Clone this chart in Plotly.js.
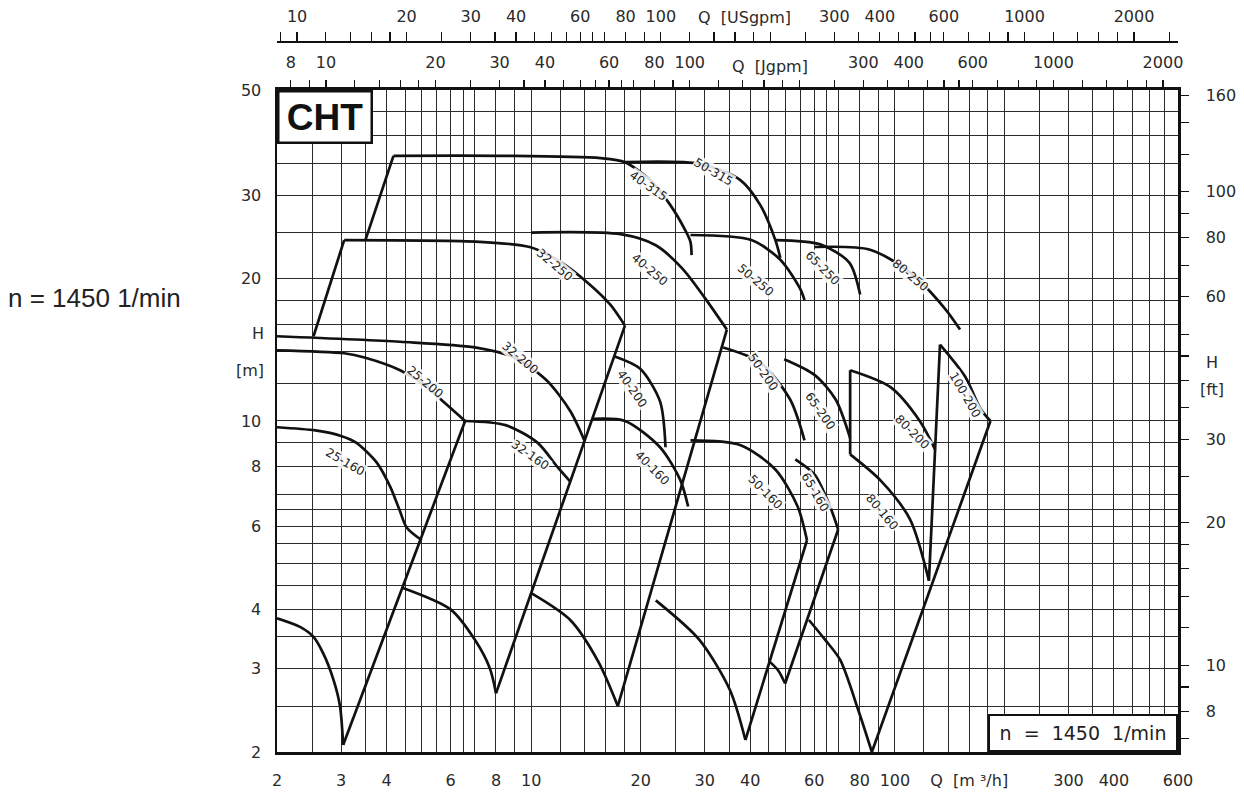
<!DOCTYPE html>
<html><head><meta charset="utf-8">
<script src="https://cdn.plot.ly/plotly-3.0.1.min.js"></script>
<style>html,body{margin:0;padding:0;background:#fff}#chart{width:1244px;height:793px}</style>
</head><body><div id="chart"></div>
<script>
// ---- axis / tick data ----
const qGrid = [2,2.5,3,3.5,4,4.5,5,5.5,6,6.5,7,8,9,10,12,14,16,18,20,25,30,35,40,45,50,55,60,65,70,80,90,100,120,140,160,180,200,250,300,350,400,450,500,550,600];
const qLabelVals = [2,3,4,6,8,10,20,30,40,60,80,100,300,400,600];
const hGrid = [2,2.5,3,3.5,4,4.5,5,5.5,6,6.5,7,8,9,10,12,14,16,18,20,25,30,35,40,45,50];
const hLabelVals = [2,3,4,6,8,10,20,30,50];
const ftTicks = [7,8,9,10,12,14,16,18,20,25,30,35,40,45,50,60,70,80,90,100,120,140,160];
const ftLabelVals = [8,10,20,30,60,80,100,160];
const usTicks = [9,10,12,14,16,18,20,25,30,35,40,45,50,55,60,65,70,80,90,100,120,140,160,180,200,250,300,350,400,450,500,550,600,700,800,900,1000,1200,1400,1600,1800,2000,2500];
const usLabelVals = [10,20,30,40,60,80,100,300,400,600,1000,2000];
const jTicks = [8,9,10,12,14,16,18,20,25,30,35,40,45,50,55,60,65,70,80,90,100,120,140,160,180,200,250,300,350,400,450,500,550,600,700,800,900,1000,1200,1400,1600,1800,2000];
const jLabelVals = [8,10,20,30,40,60,80,100,300,400,600,1000,2000];
const US_PER_M3H = 4.4029, J_PER_M3H = 3.6662, FT_PER_M = 3.2808;
const qMin = 2, qMax = 600, hMin = 2, hMax = 50;

// ---- curve data (Q in m3/h, H in m) ----
const q25_160 = [2, 2.55, 3.0, 3.3, 3.77, 4.1, 4.34, 4.55, 5.0]; const h25_160 = [9.7, 9.55, 9.3, 9.0, 8.15, 7.25, 6.5, 5.95, 5.6];
const q25_160b = [2, 2.32, 2.52, 2.68, 2.86, 2.98, 3.04]; const h25_160b = [3.83, 3.67, 3.5, 3.23, 2.84, 2.5, 2.07];
const q25_200 = [2, 3.06, 3.5, 4.36, 5.1, 5.8, 6.58];    const h25_200 = [14.1, 13.9, 13.6, 12.8, 11.9, 10.9, 10.0];
const q32_200 = [2, 4.36, 7, 9, 11, 12.8, 14.0];         const h32_200 = [15.1, 14.7, 14.3, 13.6, 12.2, 10.5, 9.1];
const q32_250 = [3.06, 7.2, 9.9, 12.0, 14.5, 16.5, 18.1]; const h32_250 = [24.1, 23.9, 23.3, 21.7, 19.4, 17.6, 15.9];
const q40_315 = [4.18, 8.2, 15.5, 18.1, 21.2, 24.1, 26.5, 27.4, 27.6]; const h40_315 = [36.3, 36.3, 35.9, 35.2, 32.3, 28.6, 25.3, 23.9, 22.4];
const q50_315 = [18.1, 29.1, 37.5, 42.6, 46.9, 48.4];    const h50_315 = [35.2, 34.9, 32.3, 28.6, 24.1, 22.1];
const q32_160 = [6.58, 8.5, 10.4, 11.8, 12.8];           const h32_160 = [10.0, 9.8, 9.0, 8.0, 7.45];
const q32_160b = [4.4, 6.0, 7.0, 7.7, 8.0];              const h32_160b = [4.45, 4.0, 3.45, 3.0, 2.66];
const q40_250 = [10.0, 17.6, 22, 26, 30, 34.5];          const h40_250 = [25.0, 24.8, 23.5, 21, 18.2, 15.6];
const q40_200 = [16.9, 19.9, 22.6, 23.4];                const h40_200 = [13.7, 12.9, 11.0, 8.8];
const q40_160 = [14.7, 18.1, 22.6, 25.7, 27.0];          const h40_160 = [10.1, 10.0, 8.8, 7.5, 6.6];
const q40_160b = [10, 12.8, 15.3, 17.3];                 const h40_160b = [4.33, 3.8, 3.1, 2.5];
const q50_250 = [27.4, 40.3, 48.4, 54.9, 56.4];          const h50_250 = [24.7, 24.1, 21.9, 19.0, 18.0];
const q50_200 = [33.7, 42.6, 51.5, 56.4];                const h50_200 = [14.3, 13.3, 11.1, 9.1];
const q50_160 = [27.4, 37.5, 46.9, 54.0, 57.3];          const h50_160 = [9.1, 8.9, 7.9, 6.6, 5.6];
const q50_160b = [22, 29, 35.2, 38.8];                   const h50_160b = [4.18, 3.45, 2.7, 2.12];
const q65_250 = [46.9, 62.3, 74.9, 80.2];                const h65_250 = [24.1, 23.6, 21.6, 18.5];
const q65_200 = [49.6, 60.2, 68.7, 75.3];                const h65_200 = [13.5, 12.5, 11.1, 9.2];
const q65_160 = [53.2, 60.2, 66.3, 69.8];                const h65_160 = [8.3, 7.7, 6.6, 5.9];
const q65_160b = [45.3, 47.8, 49.9];                     const h65_160b = [3.1, 2.97, 2.79];
const q80_250 = [60.2, 85.4, 110, 137, 151];             const h80_250 = [23.3, 23.0, 20.6, 17.3, 15.6];
const q80_200 = [75.3, 97, 117, 129];                    const h80_200 = [12.8, 11.8, 10.0, 8.7];
const q80_160 = [75.3, 91.1, 110, 124];                  const h80_160 = [8.5, 7.5, 6.2, 4.6];
const q80_160b = [58, 64.3, 70.7, 79.3, 86.4];           const h80_160b = [3.8, 3.45, 3.13, 2.45, 2.0];
const q100_200 = [133, 156, 172, 183];                   const h100_200 = [14.5, 12.4, 10.6, 10.0];
// straight boundary lines
const qB1 = [2.52, 3.06]; const hB1 = [15.1, 24.1];
const qB2 = [3.5, 4.18];  const hB2 = [24.1, 36.3];
const qB3 = [3.04, 6.58]; const hB3 = [2.07, 10.0];
const qB4 = [8.0, 18.1];  const hB4 = [2.66, 15.9];
const qB5 = [17.3, 34.5]; const hB5 = [2.5, 15.6];
const qB6 = [38.8, 57.3]; const hB6 = [2.12, 5.6];
const qB65 = [49.9, 69.8]; const hB65 = [2.79, 5.9];
const qB7 = [86.4, 183];  const hB7 = [2.0, 10.0];
const qB8 = [124, 129, 133];   const hB8 = [4.6, 8.7, 14.5];
const qB9 = [75.3, 75.3]; const hB9 = [8.5, 12.8];

// curve labels
const labelNames = ['40-315','50-315','32-250','40-250','50-250','65-250','80-250','25-200','32-200','40-200','50-200','65-200','80-200','100-200','25-160','32-160','40-160','50-160','65-160','80-160'];
const labelQ = [21.0, 31.7, 11.6, 21.2, 41.3, 63.1, 110, 5.11, 9.33, 18.95, 43.4, 62.3, 111.5, 156, 3.08, 9.94, 21.5, 44.0, 60.3, 92.2];
const labelH = [31.3, 33.5, 21.3, 20.8, 19.8, 21.0, 20.3, 12.1, 13.6, 11.7, 12.7, 10.5, 9.48, 11.35, 8.19, 8.48, 7.96, 7.08, 7.08, 6.43];
const labelAngle = [35, 30, 40, 40, 40, 45, 40, 40, 40, 55, 55, 55, 45, 60, 30, 35, 45, 45, 60, 50];

const smooth = [[q25_160,h25_160],[q25_160b,h25_160b],[q25_200,h25_200],[q32_200,h32_200],[q32_250,h32_250],[q40_315,h40_315],[q50_315,h50_315],[q32_160,h32_160],[q32_160b,h32_160b],[q40_250,h40_250],[q40_200,h40_200],[q40_160,h40_160],[q40_160b,h40_160b],[q50_250,h50_250],[q50_200,h50_200],[q50_160,h50_160],[q50_160b,h50_160b],[q65_250,h65_250],[q65_200,h65_200],[q65_160,h65_160],[q65_160b,h65_160b],[q80_250,h80_250],[q80_200,h80_200],[q80_160,h80_160],[q80_160b,h80_160b],[q100_200,h100_200]];
const straight = [[qB1,hB1],[qB2,hB2],[qB3,hB3],[qB4,hB4],[qB5,hB5],[qB6,hB6],[qB65,hB65],[qB7,hB7],[qB8,hB8],[qB9,hB9]];

const ink = '#111';
const traces = [];
smooth.forEach(([q,h]) => traces.push({x:q, y:h, mode:'lines', line:{color:ink, width:2.7, shape:'spline', smoothing:0.8}, hoverinfo:'skip'}));
straight.forEach(([q,h]) => traces.push({x:q, y:h, mode:'lines', line:{color:ink, width:2.7}, hoverinfo:'skip'}));
traces.push({x:[], y:[], xaxis:'x2', yaxis:'y', mode:'lines', hoverinfo:'skip'});
traces.push({x:[], y:[], xaxis:'x3', yaxis:'y', mode:'lines', hoverinfo:'skip'});
traces.push({x:[], y:[], xaxis:'x', yaxis:'y2', mode:'lines', hoverinfo:'skip'});

const L = Math.log10;
const txt = (vals, labs) => vals.map(v => labs.includes(v) ? String(v) : '');
const tickFont = {family:'DejaVu Sans, Liberation Sans, sans-serif', size:16, color:'#2a2a2a'};
const gridColor = '#2b2b2b';

const qText = txt(qGrid, qLabelVals);
qText[qGrid.indexOf(160)] = 'Q  [m ³/h]';

const yTop = 0.9044;
const annotations = labelNames.map((n,i) => ({
  text:n, x:L(labelQ[i]), y:L(labelH[i]), xref:'x', yref:'y', showarrow:false,
  textangle:labelAngle[i], font:{family:'DejaVu Sans, sans-serif', size:12, color:'#222'},
  bgcolor:'rgba(255,255,255,0.85)', borderpad:0
}));
annotations.push(
  {text:'<b>CHT</b>', xref:'x domain', yref:'y domain', x:0, y:1, xanchor:'left', yanchor:'top', showarrow:false,
   font:{family:'Liberation Sans, Arial, sans-serif', size:37, color:'#111'}, bgcolor:'#fff', bordercolor:'#111', borderwidth:2.5, borderpad:0, width:91, height:49},
  {text:'n  =  1450  1/min', xref:'x domain', yref:'y domain', x:1, y:0, xanchor:'right', yanchor:'bottom', showarrow:false,
   font:{family:'DejaVu Sans, sans-serif', size:19, color:'#222'}, bgcolor:'#fff', bordercolor:'#111', borderwidth:2, borderpad:0, width:186, height:34},
  {text:'n = 1450 1/min', xref:'paper', yref:'paper', x:-0.203, y:0.62, xanchor:'center', yanchor:'middle', showarrow:false,
   font:{family:'Liberation Sans, Arial, sans-serif', size:26, color:'#222'}},
  {text:'H', xref:'paper', yref:'y', x:-0.012, y:L(15.3), xanchor:'right', showarrow:false, font:tickFont},
  {text:'[m]', xref:'paper', yref:'y', x:-0.012, y:L(12.8), xanchor:'right', showarrow:false, font:tickFont},
  {text:'H', xref:'paper', yref:'y', x:1.0377, y:L(13.26), xanchor:'center', showarrow:false, font:tickFont},
  {text:'[ft]', xref:'paper', yref:'y', x:1.0377, y:L(11.68), xanchor:'center', showarrow:false, font:tickFont},
  {text:'Q  [USgpm]', xref:'x3', yref:'paper', x:L(170), y:1.004, xanchor:'center', yanchor:'middle', showarrow:false, font:tickFont},
  {text:'Q  [Jgpm]', xref:'x2', yref:'paper', x:L(166), y:0.937, xanchor:'center', yanchor:'middle', showarrow:false, font:tickFont}
);

const layout = {
  width:1244, height:793, margin:{l:277, r:66, t:20, b:41},
  paper_bgcolor:'#fff', plot_bgcolor:'#fff', showlegend:false,
  font:tickFont,
  xaxis:{type:'log', range:[L(qMin), L(qMax)], tickmode:'array', tickvals:qGrid, ticktext:qText, tickfont:tickFont,
    showgrid:true, gridcolor:gridColor, gridwidth:1, ticks:'', showline:true, linecolor:'#111', linewidth:2.5,
    zeroline:false, ticklabelstandoff:12, automargin:false, fixedrange:true},
  xaxis2:{type:'log', overlaying:'x', side:'top', anchor:'y', range:[L(qMin*J_PER_M3H), L(qMax*J_PER_M3H)],
    tickmode:'array', tickvals:jTicks, ticktext:txt(jTicks, jLabelVals), tickfont:tickFont,
    ticks:'outside', ticklen:7, tickwidth:1.2, tickcolor:'#111', showgrid:false, showline:true, linecolor:'#111', linewidth:2.5,
    zeroline:false, ticklabelstandoff:6, automargin:false},
  xaxis3:{type:'log', overlaying:'x', side:'top', anchor:'free', position:0.97, range:[L(qMin*US_PER_M3H), L(qMax*US_PER_M3H)],
    tickmode:'array', tickvals:usTicks, ticktext:txt(usTicks, usLabelVals), tickfont:tickFont,
    ticks:'outside', ticklen:9, tickwidth:1.2, tickcolor:'#111', showgrid:false, showline:true, linecolor:'#111', linewidth:2,
    zeroline:false, ticklabelstandoff:4, automargin:false},
  yaxis:{type:'log', domain:[0, yTop], range:[L(hMin), L(hMax)], tickmode:'array', tickvals:hGrid, ticktext:txt(hGrid, hLabelVals), tickfont:tickFont,
    showgrid:true, gridcolor:gridColor, gridwidth:1, ticks:'', showline:true, linecolor:'#111', linewidth:2.5,
    zeroline:false, ticklabelstandoff:10, automargin:false, fixedrange:true},
  yaxis2:{type:'log', overlaying:'y', side:'right', anchor:'x', range:[L(hMin*FT_PER_M), L(hMax*FT_PER_M)],
    tickmode:'array', tickvals:ftTicks, ticktext:txt(ftTicks, ftLabelVals), tickfont:tickFont,
    ticks:'outside', ticklen:8, tickwidth:1.2, tickcolor:'#111', showgrid:false, showline:true, linecolor:'#111', linewidth:2.5,
    zeroline:false, ticklabelstandoff:14, automargin:false},
  annotations
};
Plotly.newPlot('chart', traces, layout, {staticPlot:true, displayModeBar:false});
</script></body></html>
